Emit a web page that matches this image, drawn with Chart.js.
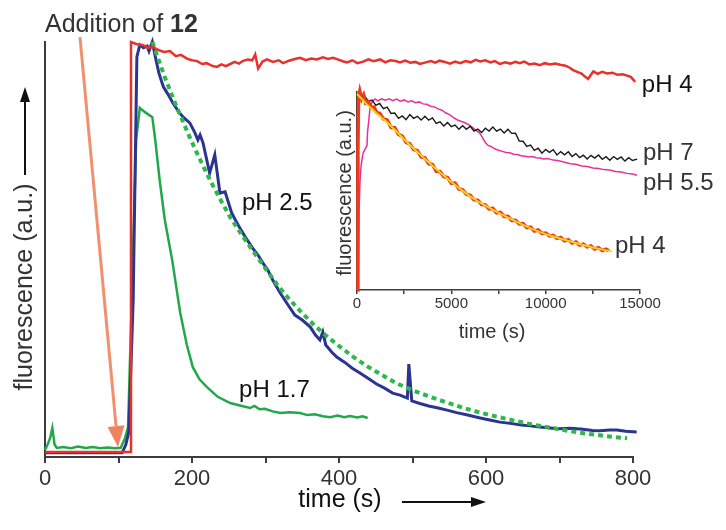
<!DOCTYPE html>
<html>
<head>
<meta charset="utf-8">
<title>Fluorescence vs time</title>
<script src="https://cdn.jsdelivr.net/npm/chart.js@4.4.1/dist/chart.umd.min.js"></script>
<style>
  html, body { margin: 0; padding: 0; background: #fff; }
  #wrap { position: relative; width: 726px; height: 530px; overflow: hidden; }
  #mainChart { position: absolute; left: 0; top: 0; }
  #insetChart { position: absolute; left: 320px; top: 80px; }
</style>
</head>
<body>
<div id="wrap">
  <canvas id="mainChart" width="726" height="530"></canvas>
  <canvas id="insetChart" width="406" height="265"></canvas>
</div>
<script>
/* ══════════════════════════════════════
   DATA  (time in s, fluorescence in a.u.)
══════════════════════════════════════ */
const mainTicks = [0, 200, 400, 600, 800];
const insetTicks = [0, 5000, 10000, 15000];

// main panel, pH 4
const mainPH4 = [
  [0,1.2],[116,1.2],[117,100],[126,99.4],[133,99.3],[140,98.6],[147,98.8],[155,98],[162,97.6],
  [170,97.8],[178,96.6],[185,96.9],[193,96],[200,95.6],[207,95.4],[214,94.7],[220,94.9],[228,94.2],
  [234,94],[240,94.6],[246,94.2],[252,94.7],[258,95.2],[264,94.8],[269,95.4],[276,95.8],[282,95.6],
  [286,97],[290,93.6],[296,95.3],[302,95.8],[310,95.2],[318,95.6],[324,94.9],[332,95.5],[340,95.9],
  [347,96.2],[355,95.6],[362,96],[370,95.8],[378,96.3],[385,95.9],[392,96.2],[400,95.7],[406,95.3],
  [411,95.1],[418,95.6],[425,94.9],[432,95.2],[440,95.8],[447,95.4],[456,95.8],[463,95.1],[470,95.6],
  [477,95.4],[483,95.1],[490,95.5],[497,95],[504,95.2],[510,94.7],[518,95.1],[525,95.4],[531,95],
  [537,95.5],[544,95.2],[551,94.8],[558,95.3],[565,94.9],[572,95.4],[579,95.1],[586,95.7],[592,95.3],
  [599,95.6],[606,95.1],[612,95.4],[619,94.7],[626,95.1],[633,94.8],[640,95.2],[646,94.9],[652,95.3],
  [659,94.6],[666,94.8],[673,94.4],[680,94.9],[687,94.6],[694,94.8],[701,94.5],[708,94.3],[714,93.8],
  [718,93.3],[724,92.8],[730,92.4],[735,91.6],[739,91.1],[743,92.2],[746,92.9],[752,92.3],[758,92.8],
  [765,92.4],[772,92.6],[779,92.1],[786,92.2],[792,91.9],[797,91.6],[803,90.4]
];

// main panel, pH 2.5
const mainPH25 = [
  [0,1],[60,1],[105,1],[110,3],[114,6],[120,38],[125,96.4],[129,99.3],[134,98.6],[139,99],
  [141.5,97.8],[146,100],[151,95.7],[155,92.5],[161,89.2],[167,87.5],[174,85.3],[181,83.4],[188,81.9],
  [197,80.5],[204,78.1],[208,76.4],[211,77.6],[215,75.7],[224,68.4],[231,72.8],[238,63.6],[245,63.9],
  [254,58.8],[259,57.1],[267,54.6],[275,52.3],[283,50.2],[290,48.6],[297,46.6],[303,45.1],[310,42.6],
  [320,39.5],[330,36.8],[340,34.2],[350,33],[361,31.3],[368,29.4],[374,28.2],[378,30.1],[382,27],
  [390,25.3],[397,24.1],[408,22.8],[418,21.4],[429,20.2],[440,18.9],[451,17.6],[462,16.6],[473,15.4],
  [483,14.9],[493,14.2],[495,22.4],[499,13.5],[510,12.9],[522,12.3],[535,11.8],[547,11.3],[560,10.7],
  [575,10.1],[592,9.4],[605,8.9],[619,8.4],[633,8.1],[648,7.7],[660,7.5],[673,7.2],[687,7],[700,6.8],
  [715,6.9],[732,6.7],[745,6.4],[755,6.3],[768,6.5],[778,6.5],[790,6.2],[805,6]
];

// main panel, first-order fit of pH 2.5 (dotted)
const mainFit = [
  [146,100],[155,95.5],[163,91.5],[172,87.5],[180,84],[189,80.3],[197,77],[205,73.9],[213,70.9],
  [221,68],[229,65.2],[240,61.6],[252,57.8],[267,53.7],[283,49.6],[300,45.4],[316,41.5],[331,38.3],
  [347,35.2],[365,32],[384,29],[401,26.6],[419,24.2],[437,22],[456,20],[478,17.8],[501,16],
  [524,14.5],[547,13.1],[570,11.8],[592,10.7],[615,9.7],[640,8.7],[664,7.8],[687,7.1],[712,6.3],
  [738,5.6],[765,5],[792,4.5]
];

// main panel, pH 1.7
const mainPH17 = [
  [0,1.7],[4,3.2],[7,4.6],[10,7],[13,3],[16,2.2],[25,2.4],[35,2.1],[45,2.5],[55,2.2],[65,2.4],
  [75,2.1],[85,2.3],[95,2.1],[103,2.2],[109,4.6],[113,7.2],[118,37.8],[124,76.4],[129,84.1],
  [136,83.1],[146,81.9],[150,76.4],[156,66.7],[163,57.1],[173,47.5],[184,34.7],[193,27],[201,21.7],
  [210,18.8],[220,16.9],[235,14.5],[252,13],[265,12.4],[279,11.8],[285,12.3],[292,11.5],[299,11.6],
  [310,11],[320,10.6],[333,10.8],[347,10.6],[357,10.1],[367,10.3],[378,9.8],[388,9.6],[398,10],
  [407,9.6],[415,9.9],[425,9.5],[432,9.8],[439,9.4]
];

// inset, pH 7
const insetPH7 = [
  [0,98.2],[200,96.7],[400,98.1],[600,95.3],[800,95.9],[1000,93.2],[1200,94.2],[1400,91.6],
  [1600,92.4],[1800,89.2],[2000,89.4],[2200,86.7],[2400,87.9],[2600,86],[2800,88.6],[3000,86.7],
  [3200,87.7],[3400,85.8],[3600,87.8],[3800,85.8],[4000,86.9],[4200,84.2],[4400,84.9],[4600,82.8],
  [4800,84.6],[5000,82.5],[5200,83.3],[5400,81.2],[5600,83],[5800,81.2],[6000,82.7],[6200,80.3],
  [6400,81.3],[6600,79.5],[6800,81.7],[7000,80.3],[7200,82.3],[7400,80.2],[7600,81.3],[7800,79.3],
  [8000,81.2],[8200,79.1],[8400,79.2],[8600,75.2],[8800,75.1],[9000,72.5],[9200,73.2],[9400,70.5],
  [9600,71.6],[9800,69.1],[10000,71],[10200,69.5],[10400,70.9],[10600,68.2],[10800,69.9],[11000,68.3],
  [11200,69.8],[11400,67.4],[11600,68.9],[11800,66.9],[12000,68.1],[12200,66.2],[12400,68],
  [12600,66.6],[12800,68.2],[13000,66],[13200,67.3],[13400,65.5],[13600,67.4],[13800,66],[14000,67.2],
  [14200,65.1],[14400,66.8],[14600,65.4],[14850,66.1]
];

// inset, pH 5.5
const insetPH55 = [
  [40,0],[60,1],[110,40],[160,55],[220,63],[320,69],[420,71],[530,73],[560,80],[620,85],[690,92],
  [795,95],[950,96.5],[1100,95.5],[1300,96.5],[1500,95.8],[1700,96.6],[1900,95.6],[2100,96.4],
  [2300,95.4],[2500,96],[2700,95],[2900,95.6],[3100,94.6],[3300,95],[3500,94],[3700,93.8],[3900,92.8],
  [4100,92.5],[4300,91.5],[4500,90.8],[4700,89.5],[4900,88.6],[5100,87.2],[5300,86],[5500,85.2],
  [5700,84.6],[5900,83.6],[6100,82.3],[6300,80.6],[6500,79.4],[6650,77],[6800,74.5],[6950,73],
  [7100,72.5],[7300,71.3],[7500,70.6],[7700,70],[7900,69.4],[8100,69.3],[8300,68.6],[8500,68.4],
  [8700,67.8],[8900,67.6],[9100,67.2],[9300,67.4],[9500,66.8],[9700,66.7],[9900,66.2],[10100,66.4],
  [10400,65.6],[10700,65.3],[11000,64.5],[11300,63.8],[11600,63.5],[11900,62.6],[12200,62.4],
  [12500,61.6],[12800,61.4],[13100,60.8],[13400,60.6],[13700,59.8],[14000,59.6],[14300,58.9],
  [14600,58.6],[14850,58]
];

// inset, pH 4 (raw)
const insetPH4 = [
  [40,0],[50,70],[80,97],[150,100.5],[250,96.5],[350,98.5],[450,94.5],[600,95.2],[750,92.2],[900,92.4],
  [1050,89.6],[1200,89.2],[1400,86.4],[1600,85.9],[1800,82.2],[2000,82],[2200,78.6],[2400,77.7],
  [2600,74.6],[2800,73.8],[3000,71],[3200,70.4],[3400,67.2],[3600,66.8],[3800,63.8],[4000,63.4],
  [4200,60],[4400,59.9],[4600,57.2],[4800,56.8],[5000,53.9],[5200,54],[5400,51],[5600,50.6],
  [5800,48.4],[6000,47.8],[6200,45.5],[6400,45.4],[6600,43.2],[6800,43],[7000,41],[7200,41.2],
  [7400,38.9],[7600,39.2],[7800,37.1],[8000,37.2],[8200,35.1],[8400,35.2],[8600,33.4],[8800,33.6],
  [9000,31.5],[9200,31.8],[9400,29.8],[9600,30.3],[9800,28.6],[10000,28.8],[10200,27.3],[10400,27.6],
  [10600,26.1],[10800,26.6],[11000,24.9],[11200,25.4],[11400,23.7],[11600,24.3],[11800,22.7],
  [12000,23.2],[12200,21.8],[12400,22.3],[12600,20.7],[12800,21.4],[13000,19.9],[13200,20.6],
  [13350,19.8]
];

// inset, pH 4 fit
const insetFit = [
  [0,99],[500,94],[1000,89.5],[1500,85.5],[2000,81],[2500,76],[3000,71.5],[3500,67],[4000,62.8],
  [4500,58.6],[5000,54.5],[5500,50.8],[6000,47.3],[6500,44.2],[7000,41.6],[7500,39],[8000,36.6],
  [8500,34.3],[9000,32],[9500,30],[10000,28.2],[10500,26.8],[11000,25.4],[11500,24],[12000,22.7],
  [12500,21.5],[13000,20.4],[13500,19.5]
];

/* ══════════════════════════════════════
   STYLE
══════════════════════════════════════ */
const FONT = '"Liberation Sans", Arial, Helvetica, sans-serif';
const INK = "#333333";
const AXIS = "#3c3c3c";

function pts(arr) {
  return arr.map(([x, y]) => ({ x, y }));
}

function series(label, data, color, width, extra) {
  return Object.assign(
    {
      label,
      data: pts(data),
      borderColor: color,
      borderWidth: width,
      pointRadius: 0,
      tension: 0,
      fill: false,
      clip: false,
    },
    extra || {}
  );
}

function arrow(ctx, x0, y0, x1, y1, line, head, width, headLen, headW) {
  const a = Math.atan2(y1 - y0, x1 - x0);
  const bx = x1 - headLen * Math.cos(a);
  const by = y1 - headLen * Math.sin(a);

  ctx.strokeStyle = line;
  ctx.lineWidth = width;
  ctx.beginPath();
  ctx.moveTo(x0, y0);
  ctx.lineTo(bx, by);
  ctx.stroke();

  ctx.fillStyle = head;
  ctx.beginPath();
  ctx.moveTo(x1, y1);
  ctx.lineTo(bx + (headW / 2) * Math.sin(a), by - (headW / 2) * Math.cos(a));
  ctx.lineTo(bx - (headW / 2) * Math.sin(a), by + (headW / 2) * Math.cos(a));
  ctx.closePath();
  ctx.fill();
}

function tickOnly(list) {
  return (v) => (list.includes(v) ? v : "");
}

/* ══════════════════════════════════════
   MAIN PANEL DECORATION
══════════════════════════════════════ */
const mainLabels = [
  { text: "pH 4", t: 812, f: 88 },
  { text: "pH 2.5", t: 268, f: 59.5 },
  { text: "pH 1.7", t: 264, f: 14.5 },
];

const mainDecor = {
  id: "mainDecor",
  afterDraw(chart) {
    const { ctx, scales: { x, y } } = chart;
    ctx.save();

    // "Addition of 12" with arrow down to t = 100 s
    ctx.fillStyle = INK;
    ctx.textAlign = "left";
    ctx.textBaseline = "alphabetic";
    ctx.font = `25px ${FONT}`;
    const lead = "Addition of ";
    ctx.fillText(lead, 45, 32);
    const w = ctx.measureText(lead).width;
    ctx.font = `bold 25px ${FONT}`;
    ctx.fillText("12", 45 + w, 32);

    arrow(
      ctx,
      x.getPixelForValue(47.6), y.getPixelForValue(101.2),
      x.getPixelForValue(99.3), y.getPixelForValue(2.4),
      "#F2906E", "#EE845F", 3, 21, 17
    );

    // y title
    ctx.fillStyle = INK;
    ctx.save();
    ctx.translate(25, 287);
    ctx.rotate(-Math.PI / 2);
    ctx.textAlign = "center";
    ctx.textBaseline = "middle";
    ctx.font = `25px ${FONT}`;
    ctx.fillText("fluorescence (a.u.)", 0, 0);
    ctx.restore();
    arrow(ctx, 25, 175, 25, 87, "#111", "#111", 2, 15, 10);

    // x title
    ctx.font = `25px ${FONT}`;
    ctx.textAlign = "center";
    ctx.textBaseline = "middle";
    ctx.fillText("time (s)", 340, 500);
    arrow(ctx, 402, 502, 486, 502, "#111", "#111", 2, 15, 10);

    // curve labels
    ctx.font = `24px ${FONT}`;
    ctx.textAlign = "left";
    ctx.textBaseline = "alphabetic";
    mainLabels.forEach((l) => {
      ctx.fillText(l.text, x.getPixelForValue(l.t), y.getPixelForValue(l.f));
    });

    ctx.restore();
  },
};

/* ══════════════════════════════════════
   INSET DECORATION
══════════════════════════════════════ */
const insetLabels = [
  { text: "pH 7", t: 15159, f: 65.7 },
  { text: "pH 5.5", t: 15159, f: 50.5 },
  { text: "pH 4", t: 13675, f: 18.7 },
];

const insetDecor = {
  id: "insetDecor",
  afterDraw(chart) {
    const { ctx, scales: { x, y } } = chart;
    ctx.save();
    ctx.fillStyle = INK;

    ctx.save();
    ctx.translate(25, 113);
    ctx.rotate(-Math.PI / 2);
    ctx.textAlign = "center";
    ctx.textBaseline = "middle";
    ctx.font = `20px ${FONT}`;
    ctx.fillText("fluorescence (a.u.)", 0, 0);
    ctx.restore();

    ctx.font = `20px ${FONT}`;
    ctx.textAlign = "center";
    ctx.textBaseline = "middle";
    ctx.fillText("time (s)", 172, 252);

    ctx.font = `24px ${FONT}`;
    ctx.textAlign = "left";
    ctx.textBaseline = "alphabetic";
    insetLabels.forEach((l) => {
      ctx.fillText(l.text, x.getPixelForValue(l.t), y.getPixelForValue(l.f));
    });

    ctx.restore();
  },
};

/* ══════════════════════════════════════
   MAIN CHART
══════════════════════════════════════ */
new Chart(document.getElementById("mainChart"), {
  type: "line",
  data: {
    datasets: [
      series("pH 4", mainPH4, "#E8312A", 2.5, { order: 1 }),
      series("fit", mainFit, "#2DB84B", 4, { order: 2, borderDash: [5, 4] }),
      series("pH 2.5", mainPH25, "#2B3590", 3, { order: 3 }),
      series("pH 1.7", mainPH17, "#22A84A", 2.5, { order: 4 }),
    ],
  },
  options: {
    responsive: false,
    animation: false,
    layout: { padding: { top: 42, right: 93, left: 0, bottom: 0 } },
    plugins: { legend: { display: false }, tooltip: { enabled: false } },
    scales: {
      x: {
        type: "linear",
        min: 0,
        max: 800,
        afterFit: (s) => { s.height = 73; },
        ticks: {
          stepSize: 100,
          autoSkip: false,
          maxRotation: 0,
          padding: 3,
          color: INK,
          font: { family: FONT, size: 22 },
          callback: tickOnly(mainTicks),
        },
        grid: { display: true, drawOnChartArea: false, drawTicks: true, tickLength: 6, color: AXIS, lineWidth: 2 },
        border: { display: true, color: AXIS, width: 2 },
      },
      y: {
        type: "linear",
        min: 0,
        max: 100,
        afterFit: (s) => { s.width = 45; },
        ticks: { display: false },
        grid: { display: false },
        border: { display: true, color: AXIS, width: 2 },
      },
    },
  },
  plugins: [mainDecor],
});

/* ══════════════════════════════════════
   INSET CHART
══════════════════════════════════════ */
new Chart(document.getElementById("insetChart"), {
  type: "line",
  data: {
    datasets: [
      series("fit", insetFit, "#F6D21C", 2, { order: 1 }),
      series("pH 4", insetPH4, "#F03A1E", 3.5, { order: 2 }),
      series("pH 7", insetPH7, "#1A1A1A", 1.4, { order: 3 }),
      series("pH 5.5", insetPH55, "#E8309A", 1.5, { order: 4 }),
    ],
  },
  options: {
    responsive: false,
    animation: false,
    layout: { padding: { top: 12, right: 86, left: 0, bottom: 0 } },
    plugins: { legend: { display: false }, tooltip: { enabled: false } },
    scales: {
      x: {
        type: "linear",
        min: 0,
        max: 15000,
        afterFit: (s) => { s.height = 55; },
        ticks: {
          stepSize: 2500,
          autoSkip: false,
          maxRotation: 0,
          padding: 1,
          color: INK,
          font: { family: FONT, size: 15 },
          callback: tickOnly(insetTicks),
        },
        grid: { display: true, drawOnChartArea: false, drawTicks: true, tickLength: 4, color: AXIS, lineWidth: 1.5 },
        border: { display: true, color: AXIS, width: 1.5 },
      },
      y: {
        type: "linear",
        min: 0,
        max: 100,
        afterFit: (s) => { s.width = 37; },
        ticks: { display: false },
        grid: { display: false },
        border: { display: true, color: AXIS, width: 1.5 },
      },
    },
  },
  plugins: [insetDecor],
});
</script>
</body>
</html>
